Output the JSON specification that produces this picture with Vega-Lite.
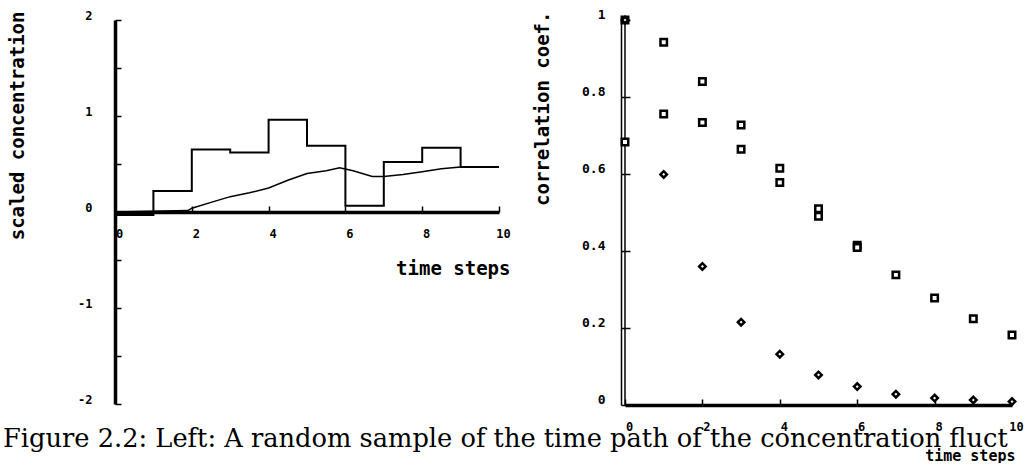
{
  "$schema": "https://vega.github.io/schema/vega-lite/v6.json",
  "padding": {"left": 2, "top": 8, "right": 0, "bottom": 0},
  "autosize": {"type": "pad"},
  "background": "white",
  "config": {
    "view": {"stroke": null},
    "axis": {
      "grid": false,
      "labelFont": "DejaVu Sans Mono",
      "titleFont": "DejaVu Sans Mono",
      "labelFontWeight": "bold",
      "titleFontWeight": "bold",
      "domainColor": "black",
      "tickColor": "black",
      "labelColor": "black",
      "titleColor": "black",
      "labelOverlap": false,
      "labelFlush": false
    }
  },
  "title": {
    "text": "Figure 2.2: Left: A random sample of the time path of the concentration fluct",
    "orient": "bottom",
    "anchor": "start",
    "frame": "bounds",
    "font": "DejaVu Serif",
    "fontSize": 25.7,
    "fontWeight": "normal",
    "color": "black",
    "offset": -36,
    "dx": -5
  },
  "bounds": "flush",
  "spacing": 126,
  "datasets": {
    "sample": [
      {"t": 0, "v": -0.03},
      {"t": 1, "v": 0.22},
      {"t": 2, "v": 0.65},
      {"t": 3, "v": 0.62},
      {"t": 4, "v": 0.96},
      {"t": 5, "v": 0.69},
      {"t": 6, "v": 0.065},
      {"t": 7, "v": 0.52},
      {"t": 8, "v": 0.67},
      {"t": 9, "v": 0.47},
      {"t": 10, "v": 0.47}
    ],
    "mean": [
      {"t": 0, "v": 0.0},
      {"t": 1.25, "v": 0.01},
      {"t": 1.9, "v": 0.015},
      {"t": 2, "v": 0.04},
      {"t": 2.5, "v": 0.1},
      {"t": 3, "v": 0.16},
      {"t": 3.5, "v": 0.2},
      {"t": 4, "v": 0.25},
      {"t": 4.5, "v": 0.33},
      {"t": 5, "v": 0.4},
      {"t": 5.5, "v": 0.43},
      {"t": 5.85, "v": 0.46},
      {"t": 6.2, "v": 0.43},
      {"t": 6.7, "v": 0.37},
      {"t": 7, "v": 0.37},
      {"t": 7.5, "v": 0.39},
      {"t": 8, "v": 0.42},
      {"t": 8.5, "v": 0.45},
      {"t": 9, "v": 0.47},
      {"t": 10, "v": 0.47}
    ],
    "corr": [
      {"lag": 0, "r": 1.0, "series": "a"},
      {"lag": 1, "r": 0.942, "series": "a"},
      {"lag": 2, "r": 0.84, "series": "a"},
      {"lag": 3, "r": 0.727, "series": "a"},
      {"lag": 4, "r": 0.615, "series": "a"},
      {"lag": 5, "r": 0.51, "series": "a"},
      {"lag": 6, "r": 0.415, "series": "a"},
      {"lag": 7, "r": 0.338, "series": "a"},
      {"lag": 8, "r": 0.278, "series": "a"},
      {"lag": 9, "r": 0.224, "series": "a"},
      {"lag": 10, "r": 0.182, "series": "a"},
      {"lag": 0, "r": 0.683, "series": "b"},
      {"lag": 1, "r": 0.756, "series": "b"},
      {"lag": 2, "r": 0.734, "series": "b"},
      {"lag": 3, "r": 0.664, "series": "b"},
      {"lag": 4, "r": 0.578, "series": "b"},
      {"lag": 5, "r": 0.49, "series": "b"},
      {"lag": 6, "r": 0.409, "series": "b"},
      {"lag": 0, "r": 1.0, "series": "c"},
      {"lag": 1, "r": 0.599, "series": "c"},
      {"lag": 2, "r": 0.36, "series": "c"},
      {"lag": 3, "r": 0.215, "series": "c"},
      {"lag": 4, "r": 0.132, "series": "c"},
      {"lag": 5, "r": 0.078, "series": "c"},
      {"lag": 6, "r": 0.048, "series": "c"},
      {"lag": 7, "r": 0.028, "series": "c"},
      {"lag": 8, "r": 0.018, "series": "c"},
      {"lag": 9, "r": 0.013, "series": "c"},
      {"lag": 10, "r": 0.009, "series": "c"}
    ]
  },
  "hconcat": [
    {
      "width": 384,
      "height": 384,
      "layer": [
        {
          "data": {"name": "sample"},
          "mark": {"type": "line", "interpolate": "step-after", "color": "black", "strokeWidth": 2},
          "encoding": {
            "x": {
              "field": "t", "type": "quantitative",
              "scale": {"domain": [0, 10], "nice": false},
              "axis": {
                "title": "time steps",
                "values": [0, 1, 2, 3, 4, 5, 6, 7, 8, 9, 10],
                "labelExpr": "datum.value % 2 == 0 ? '' + datum.value : ''",
                "offset": -192,
                "domainWidth": 3.5,
                "tickSize": -6,
                "tickWidth": 1.5,
                "labelPadding": 27,
                "labelBaseline": "middle",
                "labelOffset": 4,
                "labelFontSize": 12,
                "titleFontSize": 19,
                "titleX": 395,
                "titleY": 56,
                "titleAlign": "right",
                "titleBaseline": "middle"
              }
            },
            "y": {
              "field": "v", "type": "quantitative",
              "scale": {"domain": [-2, 2], "nice": false},
              "axis": {
                "title": "scaled concentration",
                "values": [-2, -1.5, -1, -0.5, 0, 0.5, 1, 1.5, 2],
                "labelExpr": "datum.value % 1 == 0 ? '' + datum.value : ''",
                "domainWidth": 3.5,
                "tickSize": -6,
                "tickWidth": 1.5,
                "labelPadding": 29,
                "labelOffset": -5,
                "labelFontSize": 12,
                "titleFontSize": 19,
                "titleX": -98,
                "titleY": -9,
                "titleAngle": -90,
                "titleAlign": "right",
                "titleBaseline": "middle"
              }
            }
          }
        },
        {
          "data": {"name": "mean"},
          "mark": {"type": "line", "color": "black", "strokeWidth": 1.5},
          "encoding": {
            "x": {"field": "t", "type": "quantitative"},
            "y": {"field": "v", "type": "quantitative"}
          }
        }
      ]
    },
    {
      "width": 387,
      "height": 385,
      "layer": [
        {
          "data": {"values": [{}]},
          "mark": {"type": "rule", "color": "black", "strokeWidth": 1.5},
          "encoding": {
            "x": {"datum": 0, "type": "quantitative"},
            "y": {"datum": 0, "type": "quantitative"},
            "y2": {"datum": 1}
          }
        },
        {
          "data": {"name": "corr"},
          "mark": {"type": "point", "filled": true, "fill": "white", "stroke": "black", "opacity": 1, "strokeWidth": 2.5},
          "encoding": {
            "x": {
              "field": "lag", "type": "quantitative",
              "scale": {"domain": [0, 10], "nice": false},
              "axis": {
                "title": "time steps",
                "values": [0, 1, 2, 3, 4, 5, 6, 7, 8, 9, 10],
                "labelExpr": "datum.value % 2 == 0 ? '' + datum.value : ''",
                "domainWidth": 3.5,
                "tickSize": -6,
                "tickWidth": 1.5,
                "labelPadding": 27,
                "labelBaseline": "middle",
                "labelOffset": 4,
                "labelFontSize": 12,
                "titleFontSize": 15,
                "titleX": 390,
                "titleY": 50,
                "titleAlign": "right",
                "titleBaseline": "middle"
              }
            },
            "y": {
              "field": "r", "type": "quantitative",
              "scale": {"domain": [0, 1], "nice": false},
              "axis": {
                "title": "correlation coef.",
                "values": [0, 0.1, 0.2, 0.3, 0.4, 0.5, 0.6, 0.7, 0.8, 0.9, 1],
                "labelExpr": "round(datum.value * 10) % 2 == 0 ? '' + datum.value : ''",
                "offset": 4,
                "domainWidth": 1.5,
                "tickSize": -9,
                "tickWidth": 1.5,
                "labelPadding": 25,
                "labelOffset": -6,
                "labelFontSize": 13,
                "titleFontSize": 19,
                "titleX": -79,
                "titleY": -9,
                "titleAngle": -90,
                "titleAlign": "right",
                "titleBaseline": "middle"
              }
            },
            "shape": {
              "field": "series", "type": "nominal",
              "scale": {"domain": ["a", "b", "c"], "range": ["square", "square", "diamond"]},
              "legend": null
            },
            "size": {
              "field": "series", "type": "nominal",
              "scale": {"domain": ["a", "b", "c"], "range": [42, 42, 18]},
              "legend": null
            }
          }
        }
      ]
    }
  ]
}
